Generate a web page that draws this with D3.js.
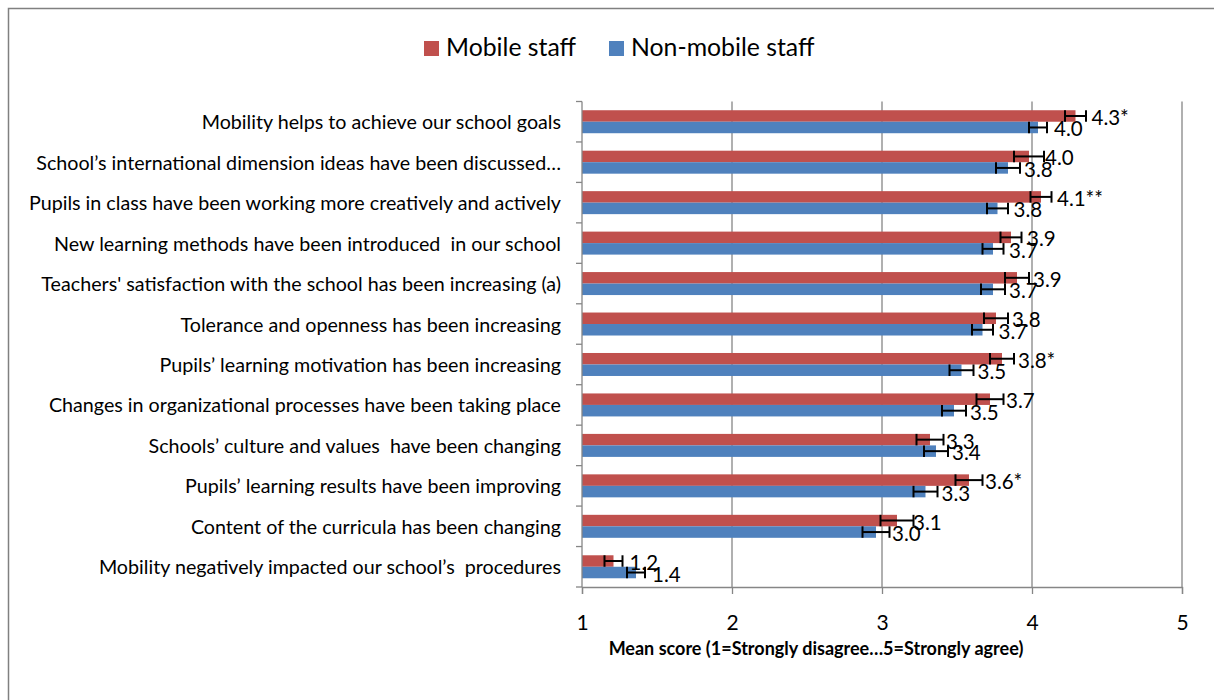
<!DOCTYPE html>
<html>
<head>
<meta charset="utf-8">
<script src="https://cdn.jsdelivr.net/npm/d3@7"></script>
<style>
  html, body { margin: 0; padding: 0; background: #fff; }
  svg { display: block; font-family: Lato, "Open Sans", sans-serif; }
  svg text { white-space: pre; }
</style>
</head>
<body>
<svg id="chart" width="1214" height="700"></svg>
<script>
// Survey statements, top to bottom
const categories = [
  "Mobility helps to achieve our school goals",
  "School\u2019s international dimension ideas have been discussed\u2026",
  "Pupils in class have been working more creatively and actively",
  "New learning methods have been introduced  in our school",
  "Teachers' satisfaction with the school has been increasing (a)",
  "Tolerance and openness has been increasing",
  "Pupils\u2019 learning motivation has been increasing",
  "Changes in organizational processes have been taking place",
  "Schools\u2019 culture and values  have been changing",
  "Pupils\u2019 learning results have been improving",
  "Content of the curricula has been changing",
  "Mobility negatively impacted our school\u2019s  procedures"
];

// Mean scores and standard errors
const mobile      = [4.29, 3.98, 4.06, 3.86, 3.90, 3.76, 3.80, 3.72, 3.32, 3.58, 3.10, 1.21];
const mobileErr   = [0.07, 0.10, 0.07, 0.07, 0.08, 0.08, 0.08, 0.09, 0.09, 0.09, 0.11, 0.06];
const mobileSig   = ["*", "", "**", "", "", "", "*", "", "", "*", "", ""];
const nonMobile   = [4.04, 3.84, 3.77, 3.74, 3.74, 3.67, 3.53, 3.48, 3.36, 3.29, 2.96, 1.36];
const nonMobileErr= [0.06, 0.08, 0.07, 0.07, 0.08, 0.07, 0.08, 0.08, 0.08, 0.08, 0.09, 0.06];
const nonMobileSig= ["", "", "", "", "", "", "", "", "", "", "", ""];

const seriesNames = ["Mobile staff", "Non-mobile staff"];
const seriesColors = ["#C0504D", "#4F81BD"];
const xTicks = [1, 2, 3, 4, 5];
const xTitle = "Mean score (1=Strongly disagree\u20265=Strongly agree)";

const series = [
  { name: seriesNames[0], color: seriesColors[0], values: mobile, err: mobileErr, sig: mobileSig },
  { name: seriesNames[1], color: seriesColors[1], values: nonMobile, err: nonMobileErr, sig: nonMobileSig }
];

const svg = d3.select("#chart");
const grid = "#868686";

// outer chart frame
svg.append("rect")
  .attr("x", 8.5).attr("y", 8.5)
  .attr("width", 1260).attr("height", 760)
  .attr("fill", "none").attr("stroke", "#808080").attr("stroke-width", 1.5);

const x = d3.scaleLinear().domain([1, 5]).range([582, 1182]);
const y = d3.scaleBand().domain(categories).range([101.5, 587]).padding(0);
const inner = d3.scaleBand().domain(seriesNames).range([0, y.bandwidth()])
  .paddingInner(0).paddingOuter(0.76);

// vertical gridlines
svg.append("g").selectAll("line")
  .data(xTicks.slice(1))
  .join("line")
  .attr("x1", d => x(d)).attr("x2", d => x(d))
  .attr("y1", y.range()[0]).attr("y2", y.range()[1])
  .attr("stroke", grid).attr("stroke-width", 1.3);

// bars
const rows = svg.append("g").selectAll("g")
  .data(series)
  .join("g");

rows.selectAll("rect")
  .data(s => s.values.map((v, i) => ({ v, i, s })))
  .join("rect")
  .attr("x", x(1))
  .attr("y", d => y(categories[d.i]) + inner(d.s.name))
  .attr("width", d => x(d.v) - x(1))
  .attr("height", inner.bandwidth())
  .attr("fill", d => d.s.color);

// error bars
const eb = svg.append("g").attr("stroke", "#000").attr("stroke-width", 2);
series.forEach(s => {
  s.values.forEach((v, i) => {
    const cy = y(categories[i]) + inner(s.name) + inner.bandwidth() / 2;
    const lo = x(v - s.err[i]), hi = x(v + s.err[i]);
    const h = inner.bandwidth() / 2;
    eb.append("line").attr("x1", lo).attr("x2", hi).attr("y1", cy).attr("y2", cy);
    eb.append("line").attr("x1", lo).attr("x2", lo).attr("y1", cy - h).attr("y2", cy + h);
    eb.append("line").attr("x1", hi).attr("x2", hi).attr("y1", cy - h).attr("y2", cy + h);
  });
});

// value labels
const fmt = d3.format(".1f");
series.forEach(s => {
  svg.append("g").selectAll("text")
    .data(s.values)
    .join("text")
    .attr("x", d => x(d) + 16)
    .attr("y", (d, i) => y(categories[i]) + inner(s.name) + inner.bandwidth() / 2 + 1)
    .attr("dominant-baseline", "central")
    .attr("font-size", 20.5)
    .attr("fill", "#000")
    .text((d, i) => fmt(d) + s.sig[i]);
});

// y axis
svg.append("line")
  .attr("x1", x(1)).attr("x2", x(1))
  .attr("y1", y.range()[0]).attr("y2", y.range()[1])
  .attr("stroke", grid).attr("stroke-width", 1.3);
const bounds = categories.map(c => y(c)).concat([y.range()[1]]);
svg.append("g").selectAll("line")
  .data(bounds)
  .join("line")
  .attr("x1", x(1) - 6).attr("x2", x(1))
  .attr("y1", d => d).attr("y2", d => d)
  .attr("stroke", grid).attr("stroke-width", 1.3);
svg.append("g").selectAll("text")
  .data(categories)
  .join("text")
  .attr("x", 561)
  .attr("y", d => y(d) + y.bandwidth() / 2)
  .attr("text-anchor", "end")
  .attr("dominant-baseline", "central")
  .attr("font-size", 19.7)
  .attr("fill", "#000")
  .text(d => d);

// x axis
const xAxis = svg.append("g")
  .attr("transform", `translate(0,${y.range()[1]})`)
  .call(d3.axisBottom(x).tickValues(xTicks).tickFormat(d3.format("d")).tickSize(7).tickPadding(21));
xAxis.select(".domain").attr("stroke", grid).attr("stroke-width", 1.3);
xAxis.selectAll(".tick line").attr("stroke", grid).attr("stroke-width", 1.3);
xAxis.selectAll(".tick text")
  .attr("font-family", "Lato, sans-serif")
  .attr("font-size", 21).attr("fill", "#000");

svg.append("text")
  .attr("x", 816).attr("y", 655)
  .attr("text-anchor", "middle")
  .attr("font-size", 18).attr("font-weight", "bold")
  .attr("fill", "#000")
  .text(xTitle);

// legend
const legendX = [424, 609];
const legend = svg.append("g").selectAll("g")
  .data(series)
  .join("g")
  .attr("transform", (d, i) => `translate(${legendX[i]},41)`);
legend.append("rect").attr("width", 15).attr("height", 15).attr("fill", d => d.color);
legend.append("text")
  .attr("x", 22).attr("y", 15)
  .attr("font-size", 24.8).attr("fill", "#000")
  .text(d => d.name);
</script>
</body>
</html>
